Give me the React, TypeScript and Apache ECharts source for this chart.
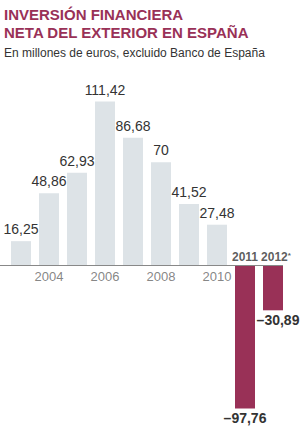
import React, { useEffect, useRef } from "react";
import * as echarts from "echarts";

const years = ["2003", "2004", "2005", "2006", "2007", "2008", "2009", "2010", "2011", "2012"];
const values = [16.25, 48.86, 62.93, 111.42, 86.68, 70, 41.52, 27.48, -97.76, -30.89];
const axisTickYears = ["2004", "2006", "2008", "2010"];
const highlightYears = ["2011", "2012"];
const highlightLabels = ["2011", "2012*"];

const TITLE_LINES = ["INVERSIÓN FINANCIERA", "NETA DEL EXTERIOR EN ESPAÑA"];
const SUBTITLE = "En millones de euros, excluido Banco de España";

const MAROON = "#993157";
const GREY_BAR = "#dde3e7";
const FONT = "Liberation Sans";
const BAR_WIDTH = 20;

function fmt(v: number): string {
  const s = String(Math.abs(v)).replace(".", ",");
  return v < 0 ? "\u2013" + s : s;
}

export default function App() {
  const ref = useRef<HTMLDivElement>(null);
  useEffect(() => {
    if (!ref.current) return;
    const chart = echarts.init(ref.current, null, { renderer: "svg" });
    const barData = values.map((v, i) => {
      const neg = v < 0;
      return {
        value: v,
        itemStyle: { color: neg ? MAROON : GREY_BAR },
        label: neg
          ? {
              position: "bottom",
              distance: 3,
              fontWeight: "bold",
              color: "#333",
              offset: years[i] === "2012" ? [5, 0] : [0, 0],
            }
          : { position: "top", distance: 5, color: "#333" },
      };
    });
    const titleGraphics = [
      {
        type: "text",
        x: 4,
        y: 5,
        style: {
          text: TITLE_LINES.join("\n"),
          font: `bold 15px "${FONT}"`,
          fill: MAROON,
          lineHeight: 18,
          verticalAlign: "top",
        },
      },
      {
        type: "text",
        x: 4,
        y: 46,
        style: {
          text: SUBTITLE,
          font: `12px "${FONT}"`,
          fill: "#333",
          lineHeight: 14,
          verticalAlign: "top",
        },
      },
    ];
    chart.setOption({
      animation: false,
      graphic: titleGraphics,
      grid: { left: 7, right: 13, top: 89, height: 330 },
      xAxis: {
        type: "category",
        data: years,
        axisLine: { show: false },
        axisTick: { show: false },
        axisLabel: { show: false },
      },
      yAxis: {
        type: "value",
        min: -105,
        max: 120,
        axisLine: { show: false },
        axisTick: { show: false },
        axisLabel: { show: false },
        splitLine: { show: false },
      },
      series: [
        {
          type: "bar",
          data: barData,
          barWidth: BAR_WIDTH,
          label: {
            show: true,
            fontFamily: FONT,
            fontSize: 14,
            formatter: (p: any) => fmt(p.value),
          },
        },
        {
          type: "scatter",
          symbolSize: 0,
          data: axisTickYears.map((y) => [y, 0]),
          label: {
            show: true,
            position: "bottom",
            distance: 5,
            fontFamily: FONT,
            fontSize: 13,
            color: "#666",
            formatter: (p: any) => axisTickYears[p.dataIndex],
          },
        },
        {
          type: "scatter",
          symbolSize: 0,
          data: highlightYears.map((y, i) => ({
            value: [y, 0],
            label: { offset: highlightLabels[i].endsWith("*") ? [3, 0] : [0, 0] },
          })),
          label: {
            show: true,
            position: "top",
            distance: 2,
            fontFamily: FONT,
            formatter: (p: any) => {
              const l = highlightLabels[p.dataIndex];
              return l.endsWith("*") ? "{b|" + l.slice(0, -1) + "}{s|*}" : "{b|" + l + "}";
            },
            rich: {
              b: { fontSize: 12, fontWeight: "bold", color: "#333", fontFamily: FONT },
              s: { fontSize: 8, fontWeight: "bold", color: "#333", verticalAlign: "top", fontFamily: FONT },
            },
          },
        },
      ],
    });
    // baseline (zero line) from the page's left edge to the right edge of the last bar
    const y0 = chart.convertToPixel({ yAxisIndex: 0 }, 0) as number;
    const xLast = chart.convertToPixel({ xAxisIndex: 0 }, years[years.length - 1]) as number;
    const yLine = Math.round(y0) + 0.5;
    chart.setOption({
      graphic: [
        ...titleGraphics,
        {
          type: "line",
          z: 100,
          silent: true,
          shape: { x1: 0, y1: yLine, x2: xLast + BAR_WIDTH / 2, y2: yLine },
          style: { stroke: "#888", lineWidth: 1 },
        },
      ],
    });
    return () => chart.dispose();
  }, []);
  return (
    <div
      ref={ref}
      style={{ position: "absolute", left: 0, top: 0, width: 300, height: 437 }}
    />
  );
}
